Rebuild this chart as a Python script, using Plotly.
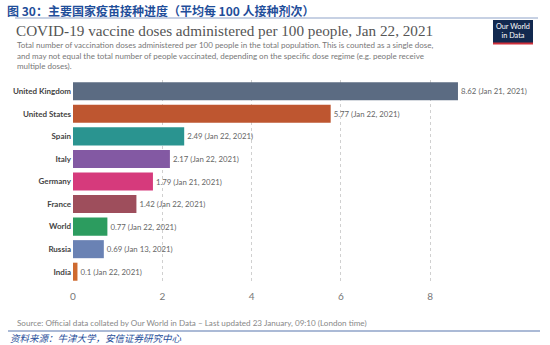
import plotly.graph_objects as go

countries = ["United Kingdom", "United States", "Spain", "Italy", "Germany", "France", "World", "Russia", "India"]
values = [8.62, 5.77, 2.49, 2.17, 1.79, 1.42, 0.77, 0.69, 0.1]
dates = ["Jan 21, 2021", "Jan 22, 2021", "Jan 22, 2021", "Jan 22, 2021", "Jan 21, 2021",
         "Jan 22, 2021", "Jan 22, 2021", "Jan 13, 2021", "Jan 22, 2021"]
colors = ["#5B6B82", "#BE5630", "#2A9490", "#8359A3", "#D63A7C", "#9E4E5C", "#2C9C5F", "#6A82B4", "#CE6A30"]
x_ticks = [0, 2, 4, 6, 8]

W, H = 550, 345
L, R, T, B = 73, 17, 80, 62
PW, PH = W - L - R, H - T - B


def px(x):
    return (x - L) / PW


def py(y):
    return (H - B - y) / PH


labels = [f"{v} ({d})" for v, d in zip(values, dates)]

fig = go.Figure(go.Bar(
    x=values, y=countries, orientation="h",
    marker=dict(color=colors, line=dict(width=0)),
    text=labels, textposition="outside", cliponaxis=False,
    textfont=dict(family="Lato", size=7.8, color="#666666"),
    width=0.8,
))

fig.update_layout(
    width=W, height=H, margin=dict(l=L, r=R, t=T, b=B, autoexpand=False),
    paper_bgcolor="white", plot_bgcolor="white", showlegend=False,
    xaxis=dict(range=[0, 10.3], tickvals=x_ticks, showgrid=True, gridcolor="#D0D0D0",
               griddash="dot", gridwidth=1, zeroline=False, showline=False, automargin=False,
               tickfont=dict(family="Lato", size=10, color="#777777"), ticks="",
               ticklabelstandoff=6),
    yaxis=dict(autorange="reversed", showgrid=False, zeroline=False, showline=False, automargin=False,
               tickfont=dict(family="Lato", size=8, color="#444444", weight="bold"), ticks="",
               ticklabelstandoff=1),
)

anns = []
# Chinese header
anns.append(dict(x=px(5), y=py(10), xref="paper", yref="paper", xanchor="left", yanchor="middle",
                 text="图 30：主要国家疫苗接种进度（平均每 100 人接种剂次）", showarrow=False,
                 font=dict(family="Noto Sans CJK SC", size=12, color="#1F4E9A", weight="bold")))
# Title
anns.append(dict(x=px(14), y=py(30), xref="paper", yref="paper", xanchor="left", yanchor="middle",
                 text="COVID-19 vaccine doses administered per 100 people, Jan 22, 2021", showarrow=False,
                 font=dict(family="Liberation Serif", size=15.2, color="#555555")))
subs = ["Total number of vaccination doses administered per 100 people in the total population. This is counted as a single dose,",
        "and may not equal the total number of people vaccinated, depending on the specific dose regime (e.g. people receive",
        "multiple doses)."]
for i, s in enumerate(subs):
    anns.append(dict(x=px(15), y=py(45 + i * 10.7), xref="paper", yref="paper", xanchor="left", yanchor="middle",
                     text=s, showarrow=False, font=dict(family="Lato", size=8, color="#777777")))
# Logo text
anns.append(dict(x=px(513), y=py(31), xref="paper", yref="paper", xanchor="center", yanchor="middle",
                 text="Our World<br>in Data", showarrow=False,
                 font=dict(family="Lato", size=7.3, color="white")))
# Source
anns.append(dict(x=px(15), y=py(323), xref="paper", yref="paper", xanchor="left", yanchor="middle",
                 text="Source: Official data collated by Our World in Data – Last updated 23 January, 09:10 (London time)",
                 showarrow=False, font=dict(family="Lato", size=8.1, color="#888888")))
anns.append(dict(x=px(8), y=py(338), xref="paper", yref="paper", xanchor="left", yanchor="middle",
                 text="<i>资料来源：牛津大学，安信证券研究中心</i>", showarrow=False,
                 font=dict(family="Noto Sans CJK SC", size=9.5, color="#1F4E9A")))
fig.update_layout(annotations=anns)

shapes = [
    dict(type="line", xref="paper", yref="paper", x0=px(15), x1=px(538), y0=py(18), y1=py(18),
         line=dict(color="#8FA3C8", width=1)),
    dict(type="line", xref="paper", yref="paper", x0=px(8), x1=px(540), y0=py(331), y1=py(331),
         line=dict(color="#8FA3C8", width=1.5)),
    dict(type="rect", xref="paper", yref="paper", x0=px(493), x1=px(533), y0=py(20), y1=py(44),
         fillcolor="#12294F", line=dict(width=0), layer="below"),
    dict(type="rect", xref="paper", yref="paper", x0=px(493), x1=px(533), y0=py(42.5), y1=py(44.5),
         fillcolor="#CE2F3A", line=dict(width=0), layer="below"),
]
fig.update_layout(shapes=shapes)

fig.write_html("out.html")
